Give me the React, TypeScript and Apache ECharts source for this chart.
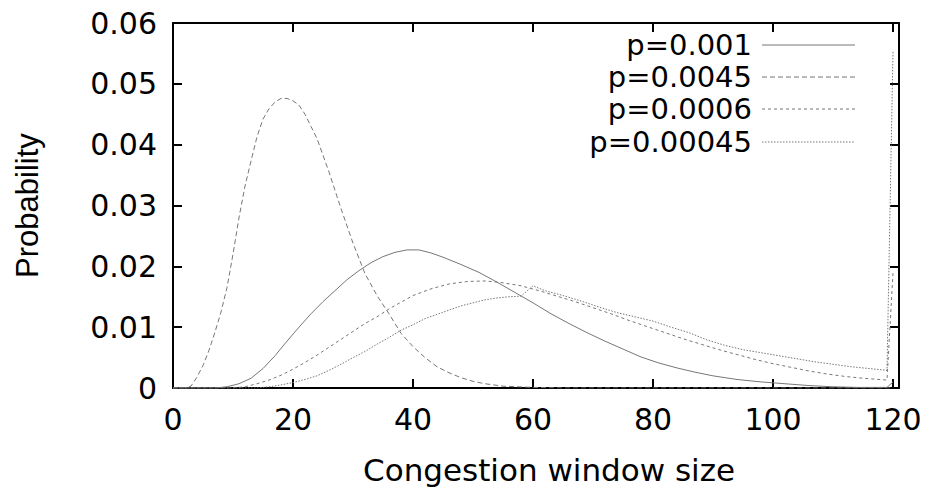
import React, { useEffect, useRef } from "react";
import * as echarts from "echarts";

// ---- data ----
const xTickLabels = ["0", "20", "40", "60", "80", "100", "120"];
const yTickLabels = ["0", "0.01", "0.02", "0.03", "0.04", "0.05", "0.06"];

const seriesNames = ["p=0.001", "p=0.0045", "p=0.0006", "p=0.00045"];

// p=0.001 (solid)
const x001 = [0, 7, 9, 11, 13, 15, 17, 19, 21, 23, 25, 27, 29, 31, 33, 35, 37, 39, 41, 43, 45, 48, 51, 54, 57, 60, 63, 66, 69, 72, 75, 78, 81, 84, 87, 90, 94, 98, 102, 106, 110, 114, 119, 120];
const y001 = [0, 0, 0.0002, 0.0007, 0.0016, 0.0032, 0.0053, 0.0077, 0.01, 0.0122, 0.0142, 0.016, 0.0178, 0.0193, 0.0206, 0.0216, 0.0223, 0.0227, 0.0227, 0.0222, 0.0215, 0.0203, 0.019, 0.0174, 0.0157, 0.014, 0.0122, 0.0106, 0.0091, 0.0077, 0.0064, 0.0051, 0.0041, 0.0033, 0.0026, 0.002, 0.0014, 0.001, 0.0007, 0.0004, 0.0002, 0.0001, 0.0001, 0.001];

// p=0.0045 (dashed, narrow peak)
const x0045 = [0, 2, 3, 4, 5, 6, 7, 8, 9, 10, 11, 12, 13, 14, 15, 16, 17, 18, 19, 20, 21, 22, 23, 24, 26, 28, 30, 32, 34, 36, 38, 40, 42, 44, 46, 48, 50, 52, 55, 60, 65, 120];
const y0045 = [0, 0, 0.0003, 0.0018, 0.0037, 0.0062, 0.0092, 0.0125, 0.0165, 0.022, 0.028, 0.0332, 0.0373, 0.0413, 0.0442, 0.0459, 0.047, 0.0476, 0.0476, 0.0472, 0.0465, 0.045, 0.043, 0.041, 0.0355, 0.0295, 0.0238, 0.0188, 0.0152, 0.0122, 0.009, 0.0068, 0.005, 0.0035, 0.0025, 0.0017, 0.0011, 0.0007, 0.0003, 0.0001, 0, 0];

// p=0.0006 (short dashes)
const x0006 = [0, 10, 12, 14, 16, 18, 20, 22, 24, 26, 28, 30, 32, 34, 36, 38, 40, 43, 46, 49, 52, 55, 58, 61, 64, 67, 70, 73, 76, 79, 82, 85, 88, 91, 94, 97, 100, 103, 106, 109, 112, 115, 119, 120];
const y0006 = [0, 0, 0.0002, 0.0007, 0.0013, 0.0021, 0.0031, 0.0042, 0.0054, 0.0067, 0.008, 0.0093, 0.0106, 0.0117, 0.013, 0.0141, 0.0152, 0.0163, 0.0171, 0.0175, 0.0176, 0.0173, 0.0168, 0.016, 0.0151, 0.0142, 0.0132, 0.0122, 0.0111, 0.0101, 0.0091, 0.0081, 0.0072, 0.0063, 0.0055, 0.0047, 0.004, 0.0034, 0.0028, 0.0023, 0.0019, 0.0016, 0.0013, 0.0189];

// p=0.00045 (dotted)
const x00045 = [0, 14, 16, 18, 20, 22, 24, 26, 28, 30, 32, 34, 36, 38, 40, 42, 44, 46, 48, 50, 52, 54, 56, 58, 60, 62, 65, 68, 71, 74, 77, 80, 83, 86, 89, 92, 95, 98, 101, 104, 107, 110, 113, 116, 119, 120];
const y00045 = [0, 0, 0.0002, 0.0005, 0.0009, 0.0014, 0.002, 0.0029, 0.0039, 0.005, 0.006, 0.0072, 0.0083, 0.0095, 0.0104, 0.0114, 0.0121, 0.0128, 0.0135, 0.014, 0.0145, 0.0148, 0.015, 0.0151, 0.0168, 0.016, 0.0152, 0.0143, 0.0133, 0.0124, 0.0117, 0.011, 0.01, 0.0091, 0.0079, 0.007, 0.0063, 0.0058, 0.0053, 0.0048, 0.0043, 0.0039, 0.0035, 0.0032, 0.0029, 0.0553];

const seriesX = [x001, x0045, x0006, x00045];
const seriesY = [y001, y0045, y0006, y00045];
const seriesDash: (number[] | "solid")[] = ["solid", [5, 3], [3, 3], [1.5, 1.5]];

const LINE_COLOR = "#777777";
const FONT_H = "DejaVu Sans";
const FONT_V = "Liberation Sans";

export default function App() {
  const ref = useRef<HTMLDivElement>(null);

  useEffect(() => {
    if (!ref.current) return;
    const chart = echarts.init(ref.current, null, { renderer: "svg" });

    const gridL = 173, gridR = 27, gridT = 23, gridB = 97;

    const axisCommon = {
      type: "value" as const,
      axisLine: { show: true, onZero: false, lineStyle: { color: "#000", width: 2 } },
      axisTick: { show: true, inside: true, length: 9, lineStyle: { color: "#000", width: 2 } },
      splitLine: { show: false },
    };

    const legendRowsY = [45, 77, 109, 142];
    const legendTextX = 752;
    const legendLineX1 = 762;
    const legendLineX2 = 855;

    const graphics: any[] = [];
    seriesNames.forEach((name, i) => {
      graphics.push({
        type: "text",
        x: legendTextX,
        y: legendRowsY[i],
        style: {
          text: name,
          fill: "#000",
          font: `29px "${FONT_H}"`,
          align: "right",
          verticalAlign: "middle",
        },
        z: 100,
      });
      graphics.push({
        type: "line",
        shape: { x1: legendLineX1, y1: legendRowsY[i], x2: legendLineX2, y2: legendRowsY[i] },
        style: {
          stroke: LINE_COLOR,
          lineWidth: 1,
          lineDash: seriesDash[i] === "solid" ? null : (seriesDash[i] as number[]),
        },
        z: 100,
      });
    });

    chart.setOption({
      animation: false,
      backgroundColor: "#fff",
      grid: { left: gridL, right: gridR, top: gridT, bottom: gridB, containLabel: false },
      xAxis: [
        {
          ...axisCommon,
          position: "bottom",
          min: 0,
          max: 121,
          interval: 20,
          name: "Congestion window size",
          nameLocation: "middle",
          nameGap: 66,
          nameTextStyle: {
            fontFamily: FONT_H,
            fontSize: 31,
            color: "#000",
            padding: [0, 0, 0, 26],
          },
          axisLabel: {
            show: true,
            margin: 16,
            color: "#000",
            fontFamily: FONT_H,
            fontSize: 30,
            formatter: (v: number) => {
              const idx = xTickLabels.indexOf(String(Math.round(v)));
              return Math.abs(v - Math.round(v)) < 1e-9 && idx >= 0 ? xTickLabels[idx] : "";
            },
          },
        },
        {
          ...axisCommon,
          position: "top",
          min: 0,
          max: 121,
          interval: 20,
          axisLabel: { show: false },
        },
      ],
      yAxis: [
        {
          ...axisCommon,
          position: "left",
          min: 0,
          max: 0.06,
          interval: 0.01,
          name: "Probability",
          nameLocation: "middle",
          nameGap: 130,
          nameRotate: 90,
          nameTextStyle: {
            fontFamily: FONT_V,
            fontSize: 31,
            color: "#000",
          },
          axisLabel: {
            show: true,
            margin: 16,
            color: "#000",
            fontFamily: FONT_H,
            fontSize: 30,
            formatter: (v: number) => {
              const i = Math.round(v / 0.01);
              return yTickLabels[i] ?? "";
            },
          },
        },
        {
          ...axisCommon,
          position: "right",
          min: 0,
          max: 0.06,
          interval: 0.01,
          axisLabel: { show: false },
        },
      ],
      series: seriesNames.map((name, i) => ({
        name,
        type: "line",
        xAxisIndex: 0,
        yAxisIndex: 0,
        showSymbol: false,
        symbol: "none",
        smooth: false,
        lineStyle: {
          color: LINE_COLOR,
          width: 1,
          type: seriesDash[i] === "solid" ? "solid" : seriesDash[i],
        },
        data: seriesX[i].map((x, j) => [x, seriesY[i][j]]),
      })),
      graphic: graphics,
    });

    return () => chart.dispose();
  }, []);

  return (
    <div
      ref={ref}
      style={{ position: "fixed", left: 0, top: 0, width: 926, height: 490, background: "#fff" }}
    />
  );
}
